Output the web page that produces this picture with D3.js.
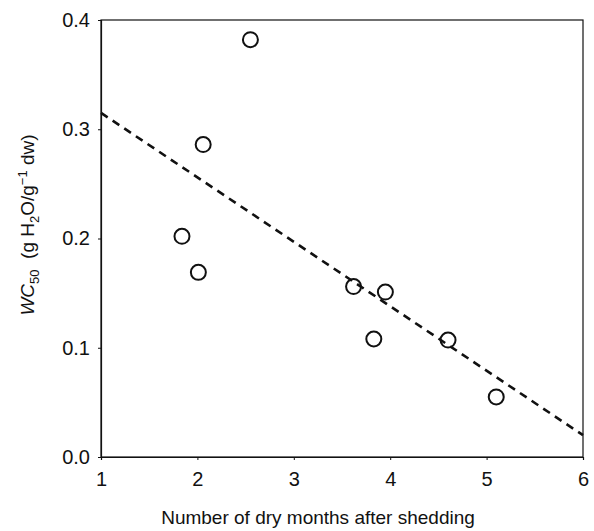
<!DOCTYPE html>
<html>
<head>
<meta charset="utf-8">
<script src="https://cdn.jsdelivr.net/npm/d3@7"></script>
<style>
  body { margin: 0; background: #fff; }
  text { font-family: "Liberation Sans", Arial, sans-serif; fill: #111; }
</style>
</head>
<body>
<div id="chart"></div>
<script>
// --- data -------------------------------------------------------------- //
var months = [2.55, 2.06, 1.84, 2.01, 3.62, 3.95, 3.83, 4.60, 5.10];
var wc50   = [0.382, 0.286, 0.202, 0.169, 0.156, 0.151, 0.108, 0.107, 0.055];
var fitX = [1, 6];
var fitY = [0.315, 0.020];
var xTicks = [1, 2, 3, 4, 5, 6];
var yTicks = [0, 0.1, 0.2, 0.3, 0.4];

// --- setup ------------------------------------------------------------- //
var W = 594, H = 531;
var margin = {left: 101, right: 11, top: 20, bottom: 74};

var svg = d3.select('#chart').append('svg')
    .attr('width', W).attr('height', H);

var x = d3.scaleLinear().domain([1, 6]).range([margin.left, W - margin.right]);
var y = d3.scaleLinear().domain([0, 0.4]).range([H - margin.bottom, margin.top]);

// frame
svg.append('rect')
    .attr('x', x(1)).attr('y', y(0.4))
    .attr('width', x(6) - x(1)).attr('height', y(0) - y(0.4))
    .attr('fill', 'none').attr('stroke', '#111').attr('stroke-width', 1.2);

// axes
var xAxis = svg.append('g')
    .attr('transform', 'translate(0,' + y(0) + ')')
    .call(d3.axisBottom(x).tickValues(xTicks).tickSize(3).tickPadding(12).tickFormat(d3.format('d')));

var yAxis = svg.append('g')
    .attr('transform', 'translate(' + x(1) + ',0)')
    .call(d3.axisLeft(y).tickValues(yTicks).tickSize(3).tickPadding(8).tickFormat(d3.format('.1f')));

[xAxis, yAxis].forEach(function (g) {
    g.select('.domain').attr('stroke', '#111').attr('stroke-width', 1.2);
    g.selectAll('.tick line').attr('stroke', '#111');
    g.selectAll('.tick text').style('font-size', '20px').attr('fill', '#111');
});

// fit line
var line = d3.line().x(function (d) { return x(d[0]); }).y(function (d) { return y(d[1]); });
svg.append('path')
    .datum(d3.zip(fitX, fitY))
    .attr('d', line)
    .attr('fill', 'none').attr('stroke', '#111')
    .attr('stroke-width', 2.6).attr('stroke-dasharray', '8,6');

// points
svg.append('g').selectAll('circle')
    .data(d3.zip(months, wc50))
    .enter().append('circle')
    .attr('cx', function (d) { return x(d[0]); })
    .attr('cy', function (d) { return y(d[1]); })
    .attr('r', 7.5)
    .attr('fill', 'none').attr('stroke', '#111').attr('stroke-width', 2);

// x title
svg.append('text')
    .attr('x', (x(1) + x(6)) / 2 - 24).attr('y', 524)
    .attr('text-anchor', 'middle')
    .style('font-size', '19px')
    .text('Number of dry months after shedding');

// y title
var yt = svg.append('text')
    .attr('transform', 'translate(34,225) rotate(-90)')
    .attr('text-anchor', 'middle')
    .style('font-size', '19px');
yt.append('tspan').style('font-style', 'italic').text('WC');
yt.append('tspan').attr('dy', 5).style('font-size', '13px').text('50');
yt.append('tspan').attr('dy', -5).text('\u00a0 (g H');
yt.append('tspan').attr('dy', 5).style('font-size', '13px').text('2');
yt.append('tspan').attr('dy', -5).text('O/g');
yt.append('tspan').attr('dy', -7).style('font-size', '13px').text('\u22121');
yt.append('tspan').attr('dy', 7).text(' dw)');
</script>
</body>
</html>
